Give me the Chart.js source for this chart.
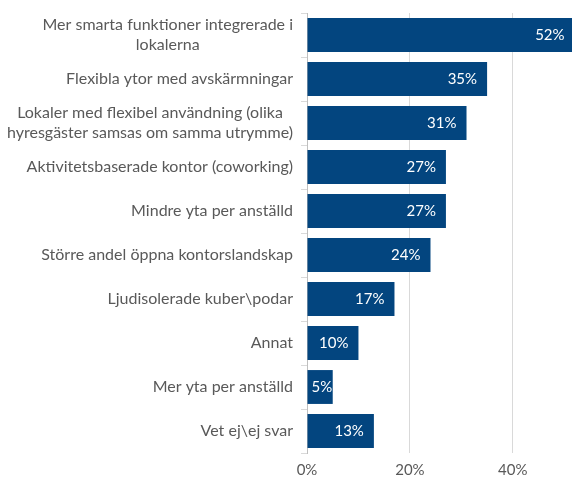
<!DOCTYPE html>
<html>
<head>
<meta charset="utf-8">
<script src="https://cdn.jsdelivr.net/npm/chart.js@4.4.1/dist/chart.umd.min.js"></script>
<style>
  html, body { margin: 0; padding: 0; background: #fff; }
  #wrap { width: 572px; height: 484px; }
</style>
</head>
<body>
<div id="wrap"><canvas id="barChart"></canvas></div>
<script>
// Categories (lines split the way the original wraps them)
const categories = [
    ["Mer smarta funktioner integrerade i", "lokalerna"],
    ["Flexibla ytor med avskärmningar"],
    ["Lokaler med flexibel användning (olika", "hyresgäster samsas om samma utrymme)"],
    ["Aktivitetsbaserade kontor (coworking)"],
    ["Mindre yta per anställd"],
    ["Större andel öppna kontorslandskap"],
    ["Ljudisolerade kuber\\podar"],
    ["Annat"],
    ["Mer yta per anställd"],
    ["Vet ej\\ej svar"]
];
const shares = [0.52, 0.35, 0.31, 0.27, 0.27, 0.24, 0.17, 0.10, 0.05, 0.13];
const xTicks = [0, 0.2, 0.4];

const fontFamily = "Lato, 'Open Sans', sans-serif";
const textGray = '#595959';

// Draw category labels (centered block, right edge fixed) and values inside bars
const labelPlugin = {
    id: 'labelPlugin',
    afterDatasetsDraw(chart) {
        const ctx = chart.ctx;
        const yScale = chart.scales.y;
        const meta = chart.getDatasetMeta(0);
        ctx.save();

        // category labels
        ctx.font = '16px ' + fontFamily;
        ctx.fillStyle = textGray;
        ctx.textAlign = 'center';
        ctx.textBaseline = 'middle';
        const rightEdge = chart.chartArea.left - 14;
        const lineH = 20;
        categories.forEach((lines, i) => {
            const yc = yScale.getPixelForValue(i);
            let w = 0;
            lines.forEach(l => { w = Math.max(w, ctx.measureText(l).width); });
            const xc = rightEdge - w / 2;
            lines.forEach((l, j) => {
                ctx.fillText(l, xc, yc + (j - (lines.length - 1) / 2) * lineH);
            });
        });

        // value labels
        ctx.font = '15px ' + fontFamily;
        ctx.fillStyle = '#ffffff';
        ctx.textAlign = 'right';
        meta.data.forEach((bar, i) => {
            const txt = Math.round(shares[i] * 100) + '%';
            const w = ctx.measureText(txt).width;
            let x = bar.x - 10;
            if (x - w < bar.base + 4) x = bar.base + 4 + w;
            ctx.fillText(txt, x, bar.y);
        });
        ctx.restore();
    }
};

const ctx = document.getElementById('barChart').getContext('2d');
new Chart(ctx, {
    type: 'bar',
    data: {
        labels: categories,
        datasets: [{
            data: shares,
            backgroundColor: '#03457f',
            borderWidth: 0,
            categoryPercentage: 1,
            barPercentage: 0.77
        }]
    },
    options: {
        indexAxis: 'y',
        responsive: true,
        maintainAspectRatio: false,
        animation: false,
        layout: { padding: { top: 13, right: 0, bottom: 0, left: 0 } },
        plugins: {
            legend: { display: false },
            tooltip: { enabled: false }
        },
        scales: {
            x: {
                min: 0,
                max: 0.515,
                afterBuildTicks: scale => {
                    scale.ticks = xTicks.map(v => ({ value: v }));
                },
                afterFit: scale => { scale.height = 31; },
                ticks: {
                    color: textGray,
                    font: { family: fontFamily, size: 15 },
                    padding: 8,
                    callback: v => Math.round(v * 100) + '%'
                },
                grid: {
                    color: '#d9d9d9',
                    drawTicks: false
                },
                border: { display: false }
            },
            y: {
                afterFit: scale => { scale.width = 307; },
                ticks: {
                    color: 'rgba(0,0,0,0)',
                    font: { size: 1 }
                },
                grid: {
                    offset: true,
                    drawOnChartArea: false,
                    drawTicks: true,
                    tickLength: 6,
                    color: '#d9d9d9'
                },
                border: { display: true, color: '#bfbfbf' }
            }
        }
    },
    plugins: [labelPlugin]
});
</script>
</body>
</html>
